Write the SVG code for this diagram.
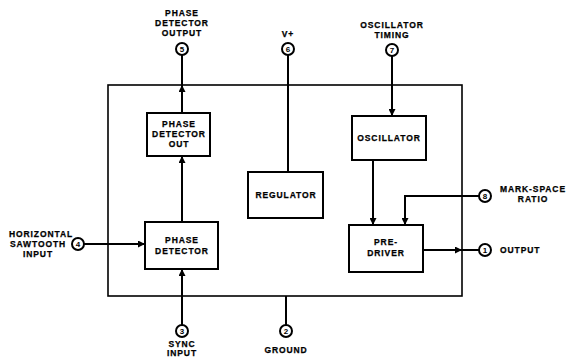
<svg xmlns="http://www.w3.org/2000/svg" width="570" height="358" viewBox="0 0 570 358">
<style>
.box{fill:#fff;stroke:#000;stroke-width:2}
.outer{fill:none;stroke:#000;stroke-width:1.6}
.ln{fill:none;stroke:#000;stroke-width:2}
.pin{fill:#fff;stroke:#000;stroke-width:2}
.t{font-family:"Liberation Sans",Arial,sans-serif;font-weight:bold;font-size:8.5px;letter-spacing:0.9px;fill:#000;text-anchor:middle;stroke:#000;stroke-width:0.25}
.n{font-family:"Liberation Sans",Arial,sans-serif;font-weight:bold;font-size:8px;fill:#000;text-anchor:middle}
</style>
<defs>
<marker id="ah" viewBox="0 0 10 10" refX="10" refY="5" markerWidth="7" markerHeight="7" markerUnits="userSpaceOnUse" orient="auto">
<path d="M0,0 L10,5 L0,10 z" fill="#000"/>
</marker>
</defs>
<rect width="570" height="358" fill="#fff"/>
<rect class="outer" x="108" y="85" width="354" height="211"/>
<g id="connectors">
<path class="ln" d="M182,113 V85" marker-end="url(#ah)"/>
<path class="ln" d="M182,85 V55"/>
<path class="ln" d="M182,222 V156" marker-end="url(#ah)"/>
<path class="ln" d="M84,244 H145" marker-end="url(#ah)"/>
<path class="ln" d="M182,325 V269" marker-end="url(#ah)"/>
<path class="ln" d="M288,55 V172"/>
<path class="ln" d="M286,296 V325"/>
<path class="ln" d="M392,56 V116" marker-end="url(#ah)"/>
<path class="ln" d="M373,160 V225" marker-end="url(#ah)"/>
<path class="ln" d="M479,196 H405 V225" marker-end="url(#ah)"/>
<path class="ln" d="M423,250 H462" marker-end="url(#ah)"/>
<path class="ln" d="M462,250 H479"/>
</g>
<g id="pdo">
<rect class="box" x="147" y="113" width="63" height="43"/>
<text class="t" x="179" y="127">PHASE</text>
<text class="t" x="179" y="137">DETECTOR</text>
<text class="t" x="179" y="147">OUT</text>
</g>
<g id="pd">
<rect class="box" x="145" y="222" width="73" height="47"/>
<text class="t" x="182" y="243">PHASE</text>
<text class="t" x="182" y="254">DETECTOR</text>
</g>
<g id="regulator">
<rect class="box" x="248" y="172" width="75" height="46"/>
<text class="t" x="286" y="198">REGULATOR</text>
</g>
<g id="oscillator">
<rect class="box" x="352" y="116" width="74" height="44"/>
<text class="t" x="389" y="141">OSCILLATOR</text>
</g>
<g id="predriver">
<rect class="box" x="349" y="225" width="74" height="47"/>
<text class="t" x="386" y="245">PRE-</text>
<text class="t" x="386" y="256">DRIVER</text>
</g>
<g id="pin5">
<circle class="pin" cx="182" cy="49" r="6"/>
<text class="n" x="182" y="52">5</text>
<text class="t" x="182" y="16">PHASE</text>
<text class="t" x="182" y="26">DETECTOR</text>
<text class="t" x="182" y="36">OUTPUT</text>
</g>
<g id="pin6">
<circle class="pin" cx="288" cy="49" r="6"/>
<text class="n" x="288" y="52">6</text>
<text class="t" x="288" y="37">V+</text>
</g>
<g id="pin7">
<circle class="pin" cx="392" cy="50" r="6"/>
<text class="n" x="392" y="53">7</text>
<text class="t" x="392" y="28">OSCILLATOR</text>
<text class="t" x="392" y="38">TIMING</text>
</g>
<g id="pin8">
<circle class="pin" cx="485" cy="196" r="6"/>
<text class="n" x="485" y="199">8</text>
<text class="t" x="533" y="192">MARK-SPACE</text>
<text class="t" x="533" y="202">RATIO</text>
</g>
<g id="pin1">
<circle class="pin" cx="485" cy="250" r="6"/>
<text class="n" x="485" y="253">1</text>
<text class="t" x="500" y="253" style="text-anchor:start">OUTPUT</text>
</g>
<g id="pin4">
<circle class="pin" cx="78" cy="244" r="6"/>
<text class="n" x="78" y="247">4</text>
<text class="t" x="41" y="237">HORIZONTAL</text>
<text class="t" x="38" y="247">SAWTOOTH</text>
<text class="t" x="38" y="257">INPUT</text>
</g>
<g id="pin3">
<circle class="pin" cx="182" cy="331" r="6"/>
<text class="n" x="182" y="334">3</text>
<text class="t" x="182" y="347">SYNC</text>
<text class="t" x="182" y="356">INPUT</text>
</g>
<g id="pin2">
<circle class="pin" cx="286" cy="331" r="6"/>
<text class="n" x="286" y="334">2</text>
<text class="t" x="286" y="353">GROUND</text>
</g>
</svg>
